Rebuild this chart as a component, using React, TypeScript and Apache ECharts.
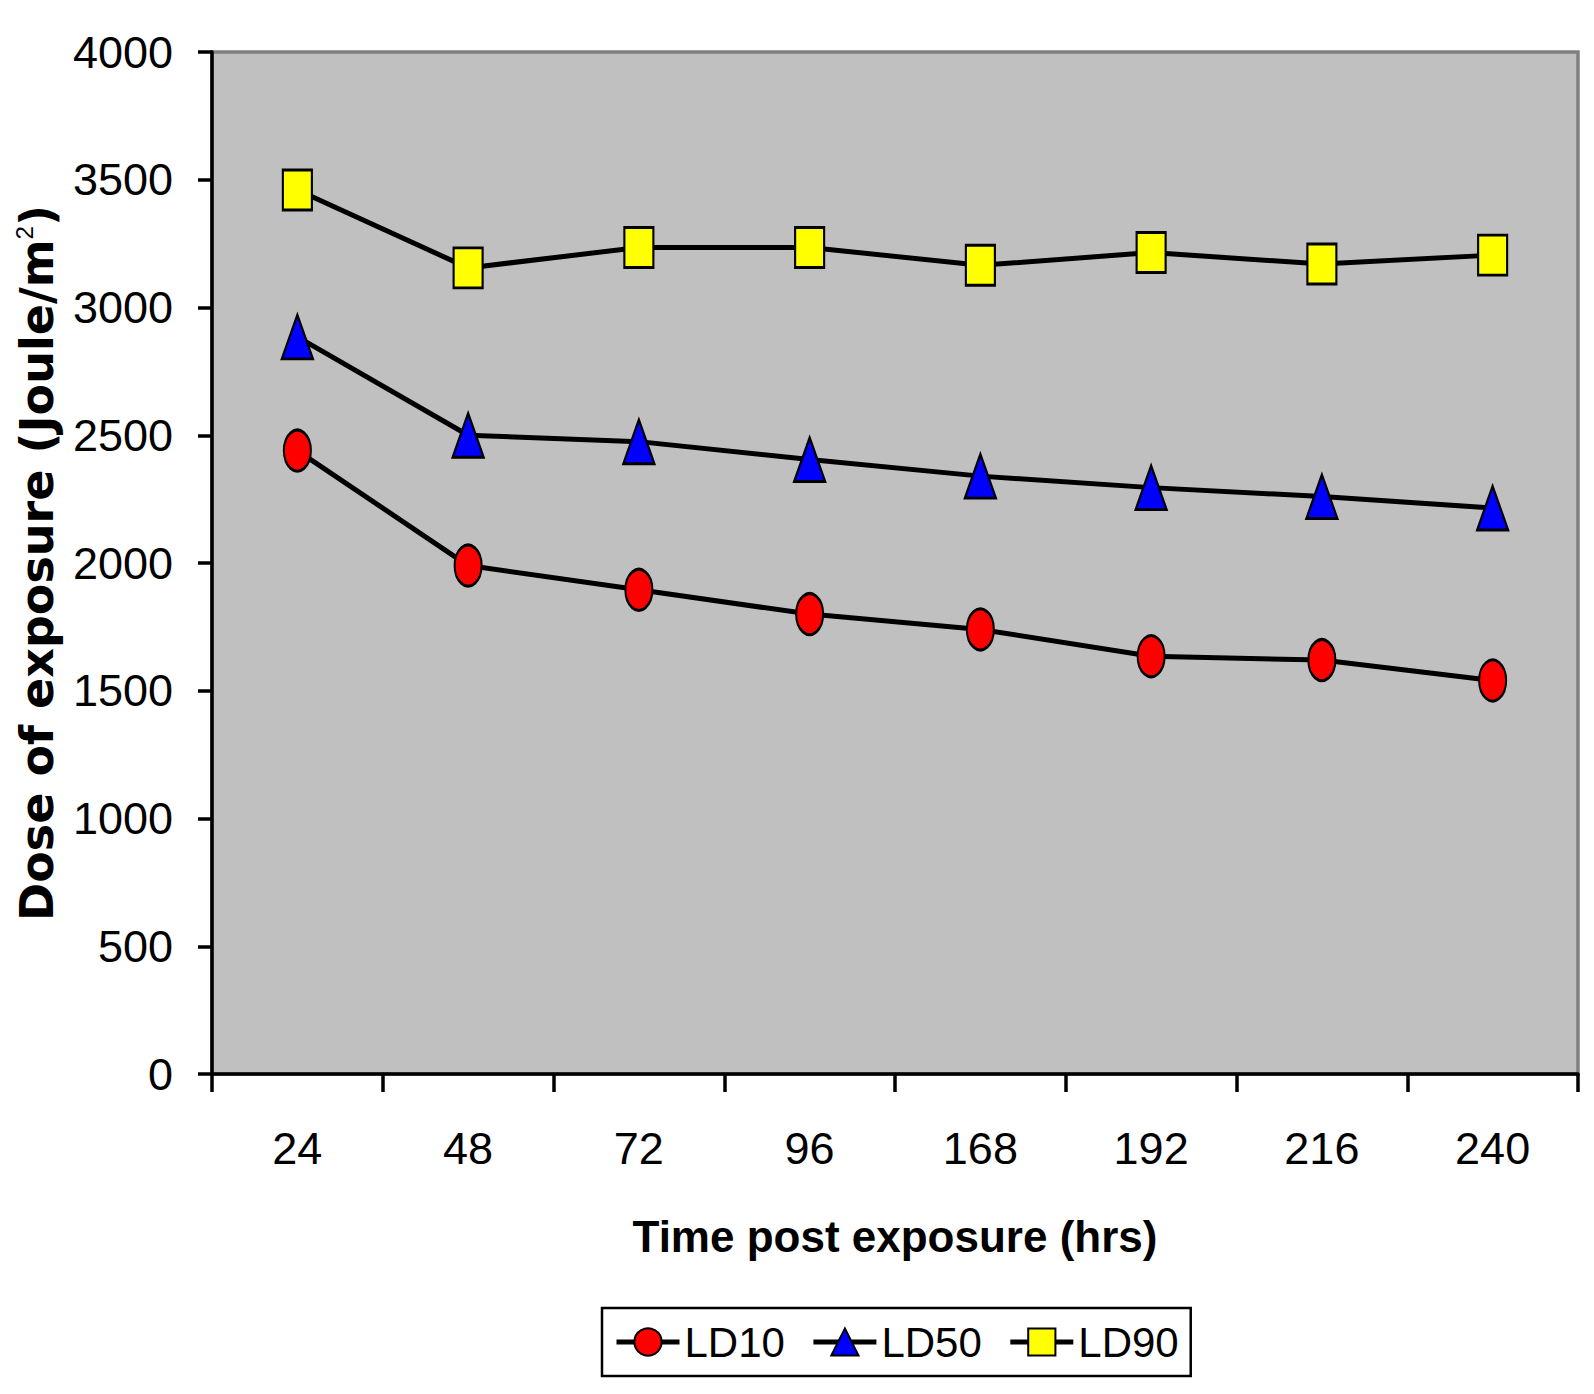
import React, { useEffect, useRef } from "react";
import * as echarts from "echarts";

const categories = ["24", "48", "72", "96", "168", "192", "216", "240"];
const ld10 = [2440, 1990, 1895, 1800, 1740, 1635, 1620, 1540];
const ld50 = [2885, 2500, 2475, 2405, 2340, 2295, 2260, 2215];
const ld90 = [3460, 3155, 3235, 3235, 3165, 3215, 3170, 3205];
const yMin = 0;
const yMax = 4000;
const yStep = 500;

const SANS = '"Liberation Sans", Arial, sans-serif';

export default function App() {
  const ref = useRef<HTMLDivElement>(null);
  useEffect(() => {
    document.body.style.margin = "0";
    const chart = echarts.init(ref.current!, null, { renderer: "svg" });
    const lineStyle = { color: "#000", width: 5 };
    chart.setOption({
      animation: false,
      backgroundColor: "#fff",
      grid: {
        left: 212,
        top: 52,
        right: 16,
        bottom: 320,
        containLabel: false,
        outerBoundsMode: "none",
        show: true,
        backgroundColor: "#C0C0C0",
        borderColor: "#808080",
        borderWidth: 3.5,
      },
      legend: {
        left: 602,
        top: 1308,
        orient: "horizontal",
        padding: [13, 12],
        itemGap: 26,
        itemWidth: 63,
        itemHeight: 34,
        borderColor: "#000",
        borderWidth: 2.5,
        backgroundColor: "#fff",
        lineStyle: { width: 5, color: "#000" },
        textStyle: { fontFamily: SANS, fontSize: 42, color: "#000" },
        data: ["LD10", "LD50", "LD90"],
      },
      xAxis: {
        type: "category",
        data: categories,
        boundaryGap: true,
        name: "Time post exposure (hrs)",
        nameLocation: "middle",
        nameGap: 140,
        nameTextStyle: { fontFamily: SANS, fontSize: 44, fontWeight: "bold", color: "#000" },
        axisLine: { lineStyle: { color: "#000", width: 3.5 } },
        axisTick: { show: true, length: 18, lineStyle: { color: "#000", width: 3.5 } },
        axisLabel: { fontFamily: SANS, fontSize: 45, color: "#000", margin: 52 },
        splitLine: { show: false },
      },
      yAxis: {
        type: "value",
        min: yMin,
        max: yMax,
        interval: yStep,
        name: "Dose of exposure (Joule/m{sup|2})",
        nameLocation: "middle",
        nameRotate: 90,
        nameGap: 150,
        nameTextStyle: {
          fontFamily: '"DejaVu Sans", sans-serif',
          fontSize: 46,
          fontWeight: "bold",
          color: "#000",
          rich: {
            sup: {
              fontFamily: SANS,
              fontSize: 24,
              fontWeight: "normal",
              color: "#000",
              verticalAlign: "top",
              padding: [0, 0, 26, 0],
            },
          },
        },
        axisLine: { show: true, lineStyle: { color: "#000", width: 3.5 } },
        axisTick: { show: true, length: 14, lineStyle: { color: "#000", width: 3.5 } },
        axisLabel: {
          fontFamily: SANS,
          fontSize: 45,
          color: "#000",
          margin: 39,
          formatter: (v: number) => String(v),
        },
        splitLine: { show: false },
      },
      series: [
        {
          name: "LD10",
          type: "line",
          data: ld10,
          symbol: "circle",
          symbolSize: [27, 41],
          lineStyle,
          itemStyle: { color: "#FF0000", borderColor: "#000", borderWidth: 2.5 },
        },
        {
          name: "LD50",
          type: "line",
          data: ld50,
          symbol: "triangle",
          symbolSize: [31, 44],
          lineStyle,
          itemStyle: { color: "#0000FF", borderColor: "#000", borderWidth: 2.5 },
        },
        {
          name: "LD90",
          type: "line",
          data: ld90,
          symbol: "rect",
          symbolSize: [29, 40],
          lineStyle,
          itemStyle: { color: "#FFFF00", borderColor: "#000", borderWidth: 2.5 },
        },
      ],
    });
    return () => chart.dispose();
  }, []);
  return <div ref={ref} style={{ width: 1594, height: 1394 }} />;
}
